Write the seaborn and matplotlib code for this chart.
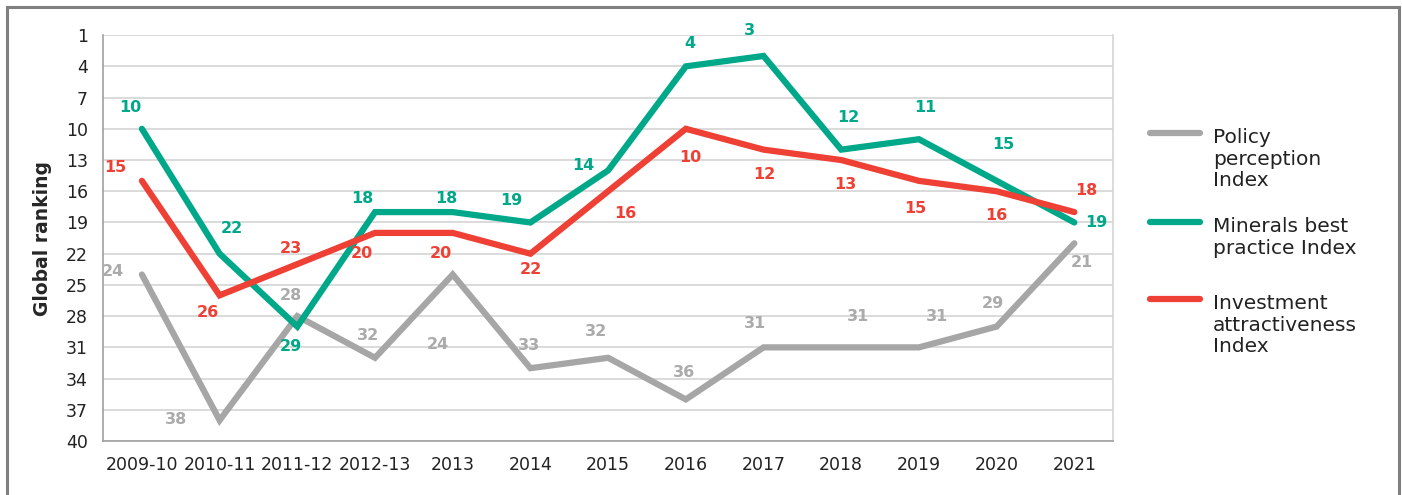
import numpy as np
import pandas as pd
import matplotlib
matplotlib.use("Agg")
import matplotlib.pyplot as plt
import seaborn as sns
from matplotlib.lines import Line2D
from matplotlib.patches import Rectangle

# chart data
years = ["2009-10", "2010-11", "2011-12", "2012-13", "2013", "2014", "2015",
         "2016", "2017", "2018", "2019", "2020", "2021"]
policy = [24, 38, 28, 32, 24, 33, 32, 36, 31, 31, 31, 29, 21]
minerals = [10, 22, 29, 18, 18, 19, 14, 4, 3, 12, 11, 15, 19]
investment = [15, 26, 23, 20, 20, 22, 16, 10, 12, 13, 15, 16, 18]
series_names = ["Policy\nperception\nIndex", "Minerals best\npractice Index",
                "Investment\nattractiveness\nIndex"]
y_ticks = list(range(1, 41, 3))

# label offsets in pixels (dx, dy in image direction), hand placed like the original
policy_off = [(-29, -3), (-44, -1), (-6, -21), (-7, -22), (-15, 70), (-1, -23), (-12, -26),
              (-2, -27), (-9, -24), (17, -31), (18, -31), (-4, -23), (8, 19)]
minerals_off = [(-12, -21), (12, -25), (-6, 20), (-13, -14), (-6, -14), (-19, -22), (-25, -5),
                (4, -23), (-14, -25), (7, -32), (6, -32), (7, -36), (22, 0)]
investment_off = [(-27, -13), (-12, 17), (-6, -16), (-13, 21), (-12, 21), (0, 16), (17, 22),
                  (4, 29), (1, 25), (4, 24), (-4, 28), (0, 24), (12, -22)]

colors = ["#A6A6A6", "#00A88A", "#EE4035"]
label_colors = ["#ABABAB", "#00A88A", "#EE4035"]

df = pd.DataFrame({
    "year": years * 3,
    "rank": policy + minerals + investment,
    "index": [series_names[0]] * 13 + [series_names[1]] * 13 + [series_names[2]] * 13,
})

sns.set_style("white")
plt.rcParams["font.family"] = ["DejaVu Sans"]

fig = plt.figure(figsize=(14.02, 4.95), dpi=100)
ax = fig.add_axes([0.0735, 0.109, 0.7205, 0.82])

sns.lineplot(data=df, x="year", y="rank", hue="index", palette=colors,
             linewidth=4.5, sort=False, legend=False, ax=ax,
             solid_capstyle="round", solid_joinstyle="miter")

ax.set_xlim(-0.5, 12.5)
ax.set_ylim(40, 1)
ax.set_yticks(y_ticks)
ax.yaxis.grid(True, color="#D4D4D4", linewidth=1.2)
ax.set_axisbelow(True)
ax.set_xticks(range(13))
ax.set_xticklabels(years)
ax.set_xticks(np.arange(-0.5, 13, 1), minor=True)
ax.tick_params(axis="x", which="major", length=0, labelsize=12.5, pad=11, colors="#222222")
ax.tick_params(axis="x", which="minor", length=6, color="#A0A0A0", width=1.2)
ax.tick_params(axis="y", length=6, labelsize=12.5, color="#A0A0A0", width=1.2,
               labelcolor="#222222", pad=5)
ax.set_xlabel("")
ax.set_ylabel("Global ranking", fontsize=13.5, fontweight="bold", labelpad=10)

for s in ["left", "bottom"]:
    ax.spines[s].set_color("#A0A0A0")
    ax.spines[s].set_linewidth(1.2)
ax.spines["right"].set_color("#D4D4D4")
ax.spines["right"].set_linewidth(1.2)
ax.spines["top"].set_visible(False)

# data labels
for vals, offs, col in zip([policy, minerals, investment],
                           [policy_off, minerals_off, investment_off], label_colors):
    for i, (v, (dx, dy)) in enumerate(zip(vals, offs)):
        ax.annotate(str(v), (i, v), xytext=(dx, -dy), textcoords="offset pixels",
                    ha="center", va="center", fontsize=11.5, fontweight="bold", color=col)

# legend drawn to the right of the plot area
legend_y = [133, 222, 299]
for name, col, ly in zip(series_names, colors, legend_y):
    yf = 1 - ly / 495
    fig.add_artist(Line2D([1150 / 1402, 1200 / 1402], [yf, yf], color=col, linewidth=4.5))
    fig.text(1213 / 1402, 1 - (ly - 5) / 495, name, fontsize=14.5, color="#222222",
             va="top", ha="left", linespacing=1.18)

# outer frame
fig.add_artist(Rectangle((7 / 1402, -0.05), 1392 / 1402, 1.05 - 7 / 495,
                         fill=False, edgecolor="#7F7F7F", linewidth=2.2,
                         transform=fig.transFigure, clip_on=False))

fig.savefig("out.png", dpi=100)
